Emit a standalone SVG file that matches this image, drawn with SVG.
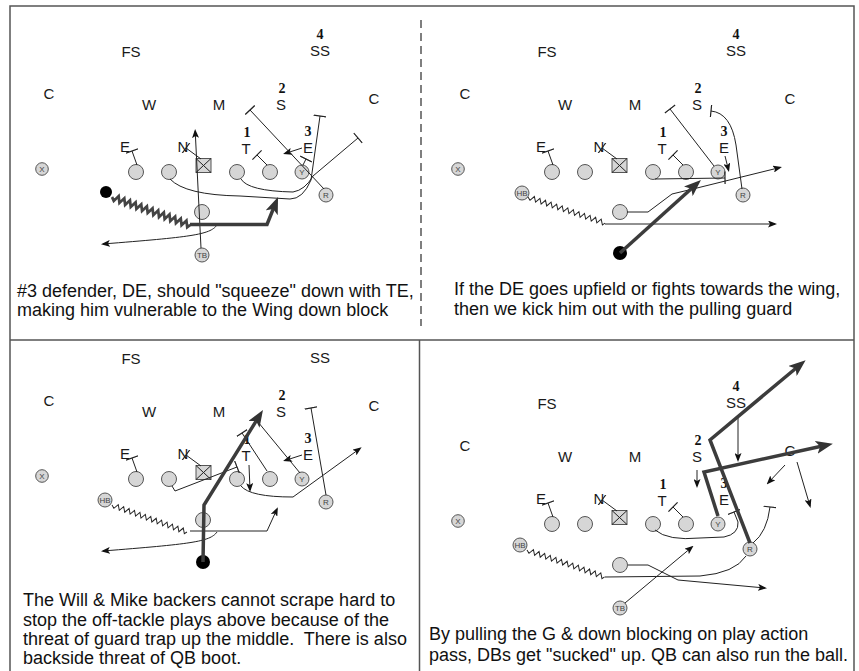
<svg xmlns="http://www.w3.org/2000/svg" xmlns:xlink="http://www.w3.org/1999/xlink" width="859" height="671" viewBox="0 0 859 671">
<style>
.lbl{font-family:"Liberation Sans",Arial,sans-serif;font-size:15px;fill:#1a1a1a;text-anchor:middle}
.num{font-family:"Liberation Serif","Times New Roman",serif;font-size:14px;font-weight:bold;fill:#111}
.cap{font-family:"Liberation Sans",Arial,sans-serif;font-size:18px;fill:#111}
.sm{font-family:"Liberation Sans",Arial,sans-serif;font-size:8px;fill:#444;text-anchor:middle}
.pl{fill:#d6d6d6;stroke:#555;stroke-width:1}
.dot{fill:#000}
.ln{fill:none;stroke:#222;stroke-width:1}
.ar{marker-end:url(#ah)}
.bk{marker-end:url(#tb)}
.thk{fill:none;stroke:#3c3c3c;stroke-width:3.5;marker-end:url(#AH)}
.zt{fill:none;stroke:#444;stroke-width:2.6}
.zn{fill:none;stroke:#222;stroke-width:1}
.frame{fill:none;stroke:#555;stroke-width:1.5}
</style>
<defs>
<marker id="ah" markerUnits="userSpaceOnUse" viewBox="0 0 9 7" markerWidth="9" markerHeight="7" refX="7" refY="3.5" orient="auto"><path d="M0,0 L9,3.5 L0,7 L2,3.5 z" fill="#111"/></marker>
<marker id="AH" markerUnits="userSpaceOnUse" viewBox="0 0 17 13" markerWidth="17" markerHeight="13" refX="11" refY="6.5" orient="auto"><path d="M0,0 L17,6.5 L0,13 L4,6.5 z" fill="#333"/></marker>
<marker id="tb" markerUnits="userSpaceOnUse" viewBox="0 0 2 13" markerWidth="2" markerHeight="13" refX="1" refY="6.5" orient="auto"><path d="M1,0 V13" stroke="#222" stroke-width="1.2"/></marker>
<path id="zz" fill="none" d="M0,0 l3,2.5 l3,-5 l3,5 l3,-5 l3,5 l3,-5 l3,5 l3,-5 l3,5 l3,-5 l3,5 l3,-5 l3,5 l3,-5 l3,5 l3,-5 l3,5 l3,-5 l3,5 l3,-5 l3,5 l3,-5 l3,5 l3,-5 l3,5 l3,-5 l3,5 l2,-2.5"/>
</defs>
<rect width="859" height="671" fill="#fff"/>
<g id="frame">
<path class="frame" d="M10,671 V6 H854 V671"/>
<line class="frame" x1="10" y1="340" x2="854" y2="340"/>
<line class="frame" x1="419.5" y1="340" x2="419.5" y2="671"/>
<line class="frame" x1="421" y1="20" x2="421" y2="326" stroke-dasharray="8 5"/>
</g>

<!-- TOP LEFT -->
<g id="q-tl">
<g id="tl-nodes">
<g id="tl-fs"><text class="lbl" x="131" y="57">FS</text></g>
<g id="tl-ss"><text class="lbl" x="320" y="38.5"><tspan class="num">4</tspan><tspan x="320" y="56">SS</tspan></text></g>
<g id="tl-cl"><text class="lbl" x="49" y="99">C</text></g>
<g id="tl-w"><text class="lbl" x="149" y="110">W</text></g>
<g id="tl-m"><text class="lbl" x="219" y="110">M</text></g>
<g id="tl-s"><text class="lbl" x="282" y="93"><tspan class="num">2</tspan><tspan x="281" y="110">S</tspan></text></g>
<g id="tl-cr"><text class="lbl" x="374" y="104">C</text></g>
<g id="tl-t"><text class="lbl" x="247" y="136.5"><tspan class="num">1</tspan><tspan x="246" y="153.5">T</tspan></text></g>
<g id="tl-e"><text class="lbl" x="308" y="135.5"><tspan class="num">3</tspan><tspan x="308" y="152.5">E</tspan></text></g>
<g id="tl-el"><text class="lbl" x="125" y="152">E</text></g>
<g id="tl-n"><text class="lbl" x="183" y="152">N</text></g>
<g id="tl-x"><circle class="pl" cx="42" cy="169" r="6.3"/><text class="sm" x="42" y="172">X</text></g>
<g id="tl-lt"><circle class="pl" cx="136" cy="172" r="7.5"/></g>
<g id="tl-lg"><circle class="pl" cx="169" cy="172" r="7.5"/></g>
<g id="tl-c"><rect class="pl" x="196" y="158.5" width="15" height="14"/><path class="ln" d="M196,158.5 L211,172.5 M211,158.5 L196,172.5"/></g>
<g id="tl-rg"><circle class="pl" cx="237" cy="172" r="7.5"/></g>
<g id="tl-rt"><circle class="pl" cx="270" cy="172" r="7.5"/></g>
<g id="tl-y"><circle class="pl" cx="302" cy="172" r="7"/><text class="sm" x="302" y="175">Y</text></g>
<g id="tl-r"><circle class="pl" cx="326" cy="195" r="7"/><text class="sm" x="326" y="198">R</text></g>
<g id="tl-fb"><circle class="pl" cx="202" cy="212" r="7.5"/></g>
<g id="tl-tb"><circle class="pl" cx="202" cy="255" r="7"/><text class="sm" x="202" y="258">TB</text></g>
<g id="tl-dot"><circle class="dot" cx="106" cy="192" r="6"/></g>
</g>
<g id="tl-connectors">
<path class="ln bk" d="M137,165 L132,151"/>
<path class="ln bk" d="M201,159 L186,148"/>
<path class="ln bk" d="M267,165 L257,155"/>
<path class="ln bk" d="M303,165 L306,159"/>
<path class="ln ar" d="M302,148 L285,153.5"/>
<path class="ln bk" d="M324,189 L250,110"/>
<path class="ln bk" d="M170,179 Q185,195 240,196 L290,199 Q303,199 311,180 L320,116"/>
<path class="ln bk" d="M241,179 Q248,191 293,192 Q305,190 313,176 L358,138"/>
<path class="ln ar" d="M201,248 L195.2,131"/>
<path class="ln ar" d="M217,225 C210,235 190,237 103,244"/>
<use xlink:href="#zz" href="#zz" class="zt" transform="translate(112,197) rotate(19.75) scale(1,1.2)"/>
<path class="thk" d="M190,224.5 L267,224.5 L275.8,202.6"/>
</g>
</g>

<!-- TOP RIGHT -->
<g id="q-tr" transform="translate(416,0)">
<g id="tr-nodes">
<g id="tr-fs"><text class="lbl" x="131" y="57">FS</text></g>
<g id="tr-ss"><text class="lbl" x="320" y="38.5"><tspan class="num">4</tspan><tspan x="320" y="56">SS</tspan></text></g>
<g id="tr-cl"><text class="lbl" x="49" y="99">C</text></g>
<g id="tr-w"><text class="lbl" x="149" y="110">W</text></g>
<g id="tr-m"><text class="lbl" x="219" y="110">M</text></g>
<g id="tr-s"><text class="lbl" x="282" y="93"><tspan class="num">2</tspan><tspan x="281" y="110">S</tspan></text></g>
<g id="tr-cr"><text class="lbl" x="374" y="104">C</text></g>
<g id="tr-t"><text class="lbl" x="247" y="136.5"><tspan class="num">1</tspan><tspan x="246" y="153.5">T</tspan></text></g>
<g id="tr-e"><text class="lbl" x="308" y="135.5"><tspan class="num">3</tspan><tspan x="308" y="152.5">E</tspan></text></g>
<g id="tr-el"><text class="lbl" x="125" y="152">E</text></g>
<g id="tr-n"><text class="lbl" x="183" y="152">N</text></g>
<g id="tr-x"><circle class="pl" cx="42" cy="169" r="6.3"/><text class="sm" x="42" y="172">X</text></g>
<g id="tr-lt"><circle class="pl" cx="136" cy="172" r="7.5"/></g>
<g id="tr-lg"><circle class="pl" cx="169" cy="172" r="7.5"/></g>
<g id="tr-c"><rect class="pl" x="196" y="158.5" width="15" height="14"/><path class="ln" d="M196,158.5 L211,172.5 M211,158.5 L196,172.5"/></g>
<g id="tr-rg"><circle class="pl" cx="237" cy="172" r="7.5"/></g>
<g id="tr-rt"><circle class="pl" cx="270" cy="172" r="7.5"/></g>
<g id="tr-y"><circle class="pl" cx="302" cy="172" r="7"/><text class="sm" x="302" y="175">Y</text></g>
<g id="tr-r"><circle class="pl" cx="327" cy="195" r="7"/><text class="sm" x="327" y="198">R</text></g>
<g id="tr-hb"><circle class="pl" cx="106" cy="193" r="7"/><text class="sm" x="106" y="196">HB</text></g>
<g id="tr-fb"><circle class="pl" cx="204" cy="212" r="7.5"/></g>
<g id="tr-dot"><circle class="dot" cx="204" cy="253" r="7"/></g>
</g>
<g id="tr-connectors">
<path class="ln bk" d="M137,165 L132,151"/>
<path class="ln bk" d="M201,159 L186,148"/>
<path class="ln bk" d="M267,165 L257,155"/>
<path class="ln bk" d="M298,166 L254,109"/>
<path class="ln ar" d="M309,156 L312.5,170"/>
<path class="ln bk" d="M326,189 L320,145 Q315,113 295,111"/>
<path class="ln bk" d="M239,179 L309,178"/>
<use xlink:href="#zz" href="#zz" class="zn" transform="translate(112,197) rotate(18.7) scale(0.98,1)"/>
<path class="ln ar" d="M189,224 L359,224"/>
<path class="ln ar" d="M211,212 L232,212 L256,194 L281,188 L364,167.5"/>
<path class="thk" d="M204,253 L280.5,184"/>
</g>
</g>

<!-- BOTTOM LEFT -->
<g id="q-bl" transform="translate(0,307)">
<g id="bl-nodes">
<g id="bl-fs"><text class="lbl" x="131" y="57">FS</text></g>
<g id="bl-ss"><text class="lbl" x="320" y="56">SS</text></g>
<g id="bl-cl"><text class="lbl" x="49" y="99">C</text></g>
<g id="bl-w"><text class="lbl" x="149" y="110">W</text></g>
<g id="bl-m"><text class="lbl" x="219" y="110">M</text></g>
<g id="bl-s"><text class="lbl" x="282" y="93"><tspan class="num">2</tspan><tspan x="281" y="110">S</tspan></text></g>
<g id="bl-cr"><text class="lbl" x="374" y="104">C</text></g>
<g id="bl-t"><text class="lbl" x="247" y="136.5"><tspan class="num">1</tspan><tspan x="246" y="153.5">T</tspan></text></g>
<g id="bl-e"><text class="lbl" x="308" y="135.5"><tspan class="num">3</tspan><tspan x="308" y="152.5">E</tspan></text></g>
<g id="bl-el"><text class="lbl" x="125" y="152">E</text></g>
<g id="bl-n"><text class="lbl" x="183" y="152">N</text></g>
<g id="bl-x"><circle class="pl" cx="42" cy="169" r="6.3"/><text class="sm" x="42" y="172">X</text></g>
<g id="bl-lt"><circle class="pl" cx="136" cy="172" r="7.5"/></g>
<g id="bl-lg"><circle class="pl" cx="169" cy="172" r="7.5"/></g>
<g id="bl-c"><rect class="pl" x="196" y="158.5" width="15" height="14"/><path class="ln" d="M196,158.5 L211,172.5 M211,158.5 L196,172.5"/></g>
<g id="bl-rg"><circle class="pl" cx="237" cy="172" r="7.5"/></g>
<g id="bl-rt"><circle class="pl" cx="270" cy="172" r="7.5"/></g>
<g id="bl-y"><circle class="pl" cx="302" cy="172" r="7"/><text class="sm" x="302" y="175">Y</text></g>
<g id="bl-r"><circle class="pl" cx="326" cy="195" r="7"/><text class="sm" x="326" y="198">R</text></g>
<g id="bl-hb"><circle class="pl" cx="105" cy="193" r="7"/><text class="sm" x="105" y="196">HB</text></g>
<g id="bl-fb"><circle class="pl" cx="203" cy="213" r="7.5"/></g>
<g id="bl-dot"><circle class="dot" cx="203" cy="255" r="7"/></g>
</g>
<g id="bl-connectors">
<path class="ln bk" d="M137,165 L132,151"/>
<path class="ln bk" d="M201,159 L186,148"/>
<path class="ln bk" d="M267,164 L242,126"/>
<path class="ln bk" d="M172,179 L175,184 L237,160"/>
<path class="ln ar" d="M249,158 L250,183"/>
<path class="ln ar" d="M302,148 L285,153.5"/>
<path class="ln bk" d="M326,188 L311,101"/>
<path class="ln" d="M300,166 L258,115"/>
<path class="ln ar" d="M241,179 Q250,190 293,190 L360,141.5"/>
<use xlink:href="#zz" href="#zz" class="zn" transform="translate(112,198) rotate(19.8) scale(0.96,1)"/>
<path class="ln ar" d="M190,224 L267,224 L277,202"/>
<path class="ln ar" d="M217,225 C210,235 190,237 103,244"/>
<path class="thk" d="M203,255 L204,198 L259.8,108.1"/>
</g>
</g>

<!-- BOTTOM RIGHT -->
<g id="q-br" transform="translate(416,352)">
<g id="br-nodes">
<g id="br-fs"><text class="lbl" x="131" y="57">FS</text></g>
<g id="br-ss"><text class="lbl" x="320" y="38.5"><tspan class="num">4</tspan><tspan x="320" y="56">SS</tspan></text></g>
<g id="br-cl"><text class="lbl" x="49" y="99">C</text></g>
<g id="br-w"><text class="lbl" x="149" y="110">W</text></g>
<g id="br-m"><text class="lbl" x="219" y="110">M</text></g>
<g id="br-s"><text class="lbl" x="282" y="93"><tspan class="num">2</tspan><tspan x="281" y="110">S</tspan></text></g>
<g id="br-cr"><text class="lbl" x="374" y="104">C</text></g>
<g id="br-t"><text class="lbl" x="247" y="136.5"><tspan class="num">1</tspan><tspan x="246" y="153.5">T</tspan></text></g>
<g id="br-e"><text class="lbl" x="308" y="135.5"><tspan class="num">3</tspan><tspan x="308" y="152.5">E</tspan></text></g>
<g id="br-el"><text class="lbl" x="125" y="152">E</text></g>
<g id="br-n"><text class="lbl" x="183" y="152">N</text></g>
<g id="br-x"><circle class="pl" cx="42" cy="169" r="6.3"/><text class="sm" x="42" y="172">X</text></g>
<g id="br-lt"><circle class="pl" cx="136" cy="172" r="7.5"/></g>
<g id="br-lg"><circle class="pl" cx="169" cy="172" r="7.5"/></g>
<g id="br-c"><rect class="pl" x="196" y="158.5" width="15" height="14"/><path class="ln" d="M196,158.5 L211,172.5 M211,158.5 L196,172.5"/></g>
<g id="br-rg"><circle class="pl" cx="237" cy="172" r="7.5"/></g>
<g id="br-rt"><circle class="pl" cx="270" cy="172" r="7.5"/></g>
<g id="br-y"><circle class="pl" cx="302" cy="172" r="7"/><text class="sm" x="302" y="175">Y</text></g>
<g id="br-r"><circle class="pl" cx="334" cy="197" r="7"/><text class="sm" x="334" y="200">R</text></g>
<g id="br-hb"><circle class="pl" cx="104" cy="193" r="7"/><text class="sm" x="104" y="196">HB</text></g>
<g id="br-fb"><circle class="pl" cx="204" cy="213" r="7.5"/></g>
<g id="br-tb"><circle class="pl" cx="204" cy="256" r="7"/><text class="sm" x="204" y="259">TB</text></g>
</g>
<g id="br-connectors">
<path class="ln bk" d="M137,165 L132,151"/>
<path class="ln bk" d="M201,159 L186,148"/>
<path class="ln bk" d="M267,165 L257,155"/>
<use xlink:href="#zz" href="#zz" class="zn" transform="translate(111,198) rotate(19.1) scale(0.99,1)"/>
<path class="ln" d="M189,225 L284,224 Q319,221 330,204"/>
<path class="ln ar" d="M212,213 L232,213 L262,228 L349,236"/>
<path class="ln ar" d="M209,251 L276,195"/>
<path class="ln bk" d="M337,191 Q351,180 354,155"/>
<path class="ln bk" d="M239,178 Q252,189 284,186 L308,185 Q323,182 322,170 L318,160"/>
<path class="ln ar" d="M322,65 L322,108"/>
<path class="ln ar" d="M281,118 L281,134"/>
<path class="ln ar" d="M369,113 L352,131"/>
<path class="ln ar" d="M381,110 L394,154"/>
<path class="thk" d="M302,164 L288,120 L411,93"/>
<path class="thk" d="M334,191 L294,88 L385,12"/>
</g>
</g>

<!-- CAPTIONS -->
<g id="captions">
<g id="cap-tl"><text class="cap" x="17" y="296.5">#3 defender, DE, should "squeeze" down with TE,</text><text class="cap" x="17" y="316">making him vulnerable to the Wing down block</text></g>
<g id="cap-tr"><text class="cap" x="454" y="294.5">If the DE goes upfield or fights towards the wing,</text><text class="cap" x="454" y="314.5">then we kick him out with the pulling guard</text></g>
<g id="cap-bl"><text class="cap" x="23" y="606">The Will &amp; Mike backers cannot scrape hard to</text><text class="cap" x="23" y="625.5">stop the off-tackle plays above because of the</text><text class="cap" x="23" y="644.5" xml:space="preserve">threat of guard trap up the middle.  There is also</text><text class="cap" x="23" y="663.5">backside threat of QB boot.</text></g>
<g id="cap-br"><text class="cap" x="429" y="640">By pulling the G &amp; down blocking on play action</text><text class="cap" x="429" y="661">pass, DBs get "sucked" up. QB can also run the ball.</text></g>
</g>
</svg>
